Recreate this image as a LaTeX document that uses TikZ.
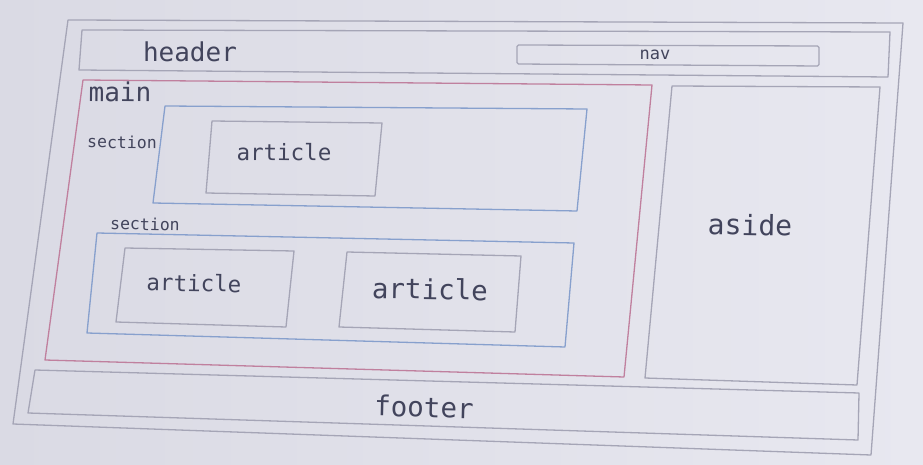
\documentclass[tikz,border=0pt]{standalone}
\usepackage{fontspec}
\setmonofont{DejaVu Sans Mono}
\usepackage{xcolor}
\definecolor{slideleft}{RGB}{218,218,228}
\definecolor{slideright}{RGB}{232,232,240}
\definecolor{boxgrey}{RGB}{165,165,182}
\definecolor{mainred}{RGB}{192,128,158}
\definecolor{secblue}{RGB}{135,160,205}
\definecolor{ink}{RGB}{66,68,92}
\newcommand{\lblsize}[1]{\ttfamily\fontsize{#1}{#1}\selectfont}
\tikzstyle{box} = [draw=boxgrey, line width=1.3pt, line join=round]
\tikzstyle{mainbox} = [box, draw=mainred]
\tikzstyle{secbox} = [box, draw=secblue]
\tikzstyle{lbl} = [text=ink, inner sep=0pt]

\begin{document}
\begin{tikzpicture}[x=1pt, y=-1pt]
\shade [left color=slideleft, right color=slideright] (0,0) rectangle (923,465);
% page frame
\draw [box] (68,20) -- (903,23) -- (871,455) -- (13,424) -- cycle;
% header with nav
\draw [box] (82,30) -- (890,32) -- (888,77) -- (79,70) -- cycle;
\draw [box, rounded corners=1.5pt] (517,45) -- (819,46) -- (819,66) -- (517,64) -- cycle;
% main
\draw [mainbox] (83,80) -- (652,85) -- (624,377) -- (45,360) -- cycle;
\draw [secbox] (165,106) -- (587,109) -- (577,211) -- (153,203) -- cycle;
\draw [box] (212,121) -- (382,123) -- (375,196) -- (206,193) -- cycle;
\draw [secbox] (97,233) -- (574,243) -- (565,347) -- (87,333) -- cycle;
\draw [box] (125,248) -- (294,251) -- (286,327) -- (116,322) -- cycle;
\draw [box] (347,252) -- (521,256) -- (515,332) -- (339,327) -- cycle;
% aside and footer
\draw [box] (672,86) -- (880,87) -- (857,385) -- (645,378) -- cycle;
\draw [box] (35,370) -- (859,393) -- (858,440) -- (28,413) -- cycle;

\node (header) [lbl, font=\lblsize{26}] at (190,52) {header};
\node (nav) [lbl, font=\lblsize{17}] at (655,55) {nav};
\node (main) [lbl, font=\lblsize{26}, rotate=-0.5] at (120,92) {main};
\node (section1) [lbl, font=\lblsize{16.5}, rotate=-0.5] at (122,142) {section};
\node (article1) [lbl, font=\lblsize{22.5}, rotate=-0.5] at (284,152) {article};
\node (section2) [lbl, font=\lblsize{16.5}, rotate=-1] at (145,224) {section};
\node (article2) [lbl, font=\lblsize{22.5}, rotate=-1] at (194,283) {article};
\node (article3) [lbl, font=\lblsize{27.5}, rotate=-1] at (430,289) {article};
\node (aside) [lbl, font=\lblsize{28}, rotate=-1] at (750,225) {aside};
\node (footer) [lbl, font=\lblsize{27.5}, rotate=-1.5] at (424,407) {footer};
\end{tikzpicture}
\end{document}
